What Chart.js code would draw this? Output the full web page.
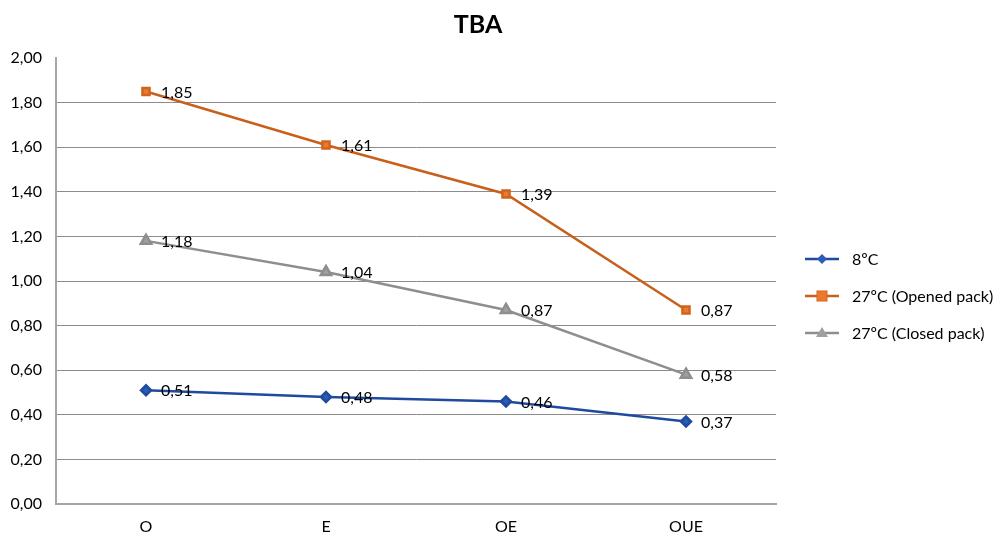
<!DOCTYPE html>
<html>
<head>
<meta charset="utf-8">
<script src="https://cdn.jsdelivr.net/npm/chart.js@4"></script>
<style>
  body { margin: 0; background: #fff; font-family: Lato, sans-serif; }
  #wrap { position: relative; width: 1000px; height: 535px; }
  #title { position: absolute; left: 378px; width: 200px; top: 8px; text-align: center;
           font: bold 25px Lato, sans-serif; color: #000; }
  #legend { position: absolute; left: 805px; top: 249px; font: 16px Lato, sans-serif; color: #000; }
  #legend div { height: 37px; display: flex; align-items: flex-start; }
  #legend svg { margin-right: 13px; margin-top: 2px; }
</style>
</head>
<body>
<div id="wrap">
  <canvas id="myChart" width="1000" height="535"></canvas>
  <div id="title">TBA</div>
  <div id="legend"></div>
</div>
<script>
// data
const categories = ['O', 'E', 'OE', 'OUE'];
const series8C = [0.51, 0.48, 0.46, 0.37];
const series27Opened = [1.85, 1.61, 1.39, 0.87];
const series27Closed = [1.18, 1.04, 0.87, 0.58];
const seriesNames = ['8ºC', '27ºC (Opened pack)', '27ºC (Closed pack)'];

const fmt = v => v.toFixed(2).replace('.', ',');

// value labels next to each point
const pointLabels = {
  id: 'pointLabels',
  afterDatasetsDraw(chart) {
    const ctx = chart.ctx;
    ctx.save();
    ctx.font = '16px Lato, sans-serif';
    ctx.fillStyle = '#000';
    ctx.textAlign = 'left';
    ctx.textBaseline = 'middle';
    chart.data.datasets.forEach((ds, i) => {
      chart.getDatasetMeta(i).data.forEach((pt, j) => {
        ctx.fillText(fmt(ds.data[j]), pt.x + 15, pt.y + 1);
      });
    });
    ctx.restore();
  }
};

const data = {
  labels: categories,
  datasets: [{
    label: seriesNames[0],
    data: series8C,
    borderColor: '#1F4A9E',
    backgroundColor: '#2A5CB5',
    pointStyle: 'rectRot',
    pointRadius: 5,
    borderWidth: 2.5
  }, {
    label: seriesNames[1],
    data: series27Opened,
    borderColor: '#C8601C',
    backgroundColor: '#EC7A2E',
    pointBorderColor: '#D0641E',
    pointStyle: 'rect',
    pointRadius: 5,
    borderWidth: 2.5
  }, {
    label: seriesNames[2],
    data: series27Closed,
    borderColor: '#8E8E8E',
    backgroundColor: '#A0A0A0',
    pointStyle: 'triangle',
    pointRadius: 6,
    borderWidth: 2.5
  }]
};

const config = {
  type: 'line',
  data: data,
  plugins: [pointLabels],
  options: {
    responsive: false,
    animation: false,
    layout: { padding: { left: 10, right: 224, top: 58, bottom: 0 } },
    plugins: { legend: { display: false }, title: { display: false }, tooltip: { enabled: false } },
    scales: {
      x: {
        offset: true,
        afterFit(s) { s.height = 31; },
        grid: { display: false, drawTicks: false },
        border: { color: '#A6A6A6', width: 2 },
        ticks: { padding: 13, color: '#000', font: { family: 'Lato', size: 16 } }
      },
      y: {
        min: 0, max: 2,
        afterFit(s) { s.width = 46; },
        grid: {
          drawTicks: false,
          color: c => c.tick.value >= 2 ? 'rgba(0,0,0,0)' : '#8C8C8C'
        },
        border: { color: '#A6A6A6', width: 2 },
        ticks: { stepSize: 0.2, padding: 14, color: '#000', font: { family: 'Lato', size: 16 },
                 callback: v => fmt(v) }
      }
    }
  }
};
const myChart = new Chart(document.getElementById('myChart'), config);

// legend: line + marker, built from the datasets
const icons = [
  '<polygon points="17,3 22,8 17,13 12,8" fill="#2A5CB5"/>',
  '<rect x="12" y="3" width="10" height="10" fill="#EC7A2E" stroke="#D0641E"/>',
  '<polygon points="17,2 23,12 11,12" fill="#A0A0A0"/>'
];
const legend = document.getElementById('legend');
data.datasets.forEach((ds, i) => {
  const row = document.createElement('div');
  row.innerHTML = '<svg width="34" height="16"><line x1="0" y1="8" x2="34" y2="8" stroke="' +
    ds.borderColor + '" stroke-width="2.5"/>' + icons[i] + '</svg><span>' + ds.label + '</span>';
  legend.appendChild(row);
});
</script>
</body>
</html>
